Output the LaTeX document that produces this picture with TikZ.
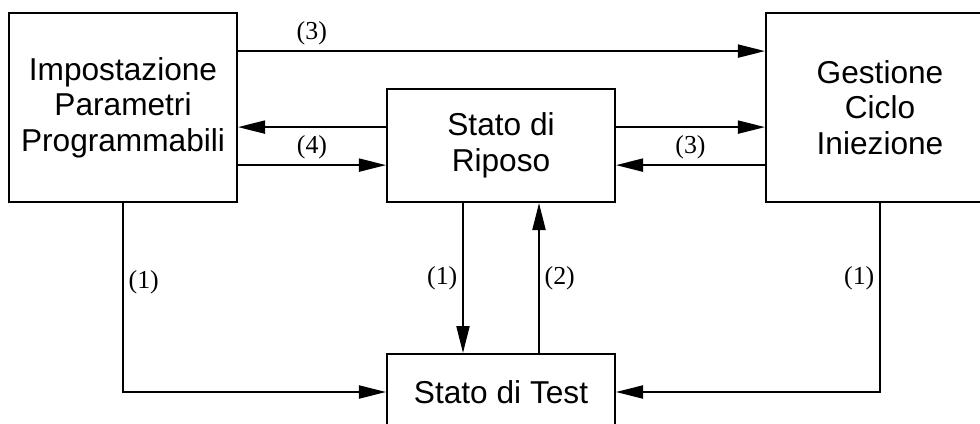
\documentclass[tikz,border=0pt]{standalone}
\usepackage{fontspec}
\setmainfont{Liberation Sans}
\newfontfamily\lblfont{Liberation Serif}
\usetikzlibrary{arrows.meta}
\usetikzlibrary{positioning}
\tikzset{box/.style = {draw, line width=1.4pt, rectangle, inner sep=0pt, align=center,
                       font=\fontsize{22.5}{25.2}\selectfont},
         arr/.style = {line width=1.4pt, -{Triangle[length=0.675cm, width=0.325cm]}},
         lbl/.style = {font=\lblfont\fontsize{18.4}{20}\selectfont}}

\begin{document}
\begin{tikzpicture}[x=0.025cm, y=-0.025cm]
    \useasboundingbox (0, 0) rectangle (980, 423);
    \clip (0, 0) rectangle (980, 423);

    \node [box, minimum width=5.7cm, minimum height=4.725cm] (imp) at (123, 107.5) {Impostazione\\Parametri\\Programmabili};
    \node [box, minimum width=5.7cm, minimum height=4.725cm] (ges) at (880, 107.5) {Gestione\\Ciclo\\Iniezione};
    \node [box, minimum width=5.7cm, minimum height=2.825cm] (rip) at (501, 145.5) {Stato di\\Riposo};
    \node [box, minimum width=5.7cm, minimum height=1.9cm] (test) at (501, 392) {Stato di Test};

    \draw [arr] ([yshift=1.41cm]imp.east) -- node [lbl, pos=0.14, above] {(3)} ([yshift=1.41cm]ges.west);
    \draw [arr] ([yshift=0.46cm]rip.west) -- ([yshift=0.46cm]rip.west -| imp.east);
    \draw [arr] ([yshift=-0.49cm]rip.west -| imp.east) -- node [lbl, above] {(4)} ([yshift=-0.49cm]rip.west);
    \draw [arr] ([yshift=0.46cm]rip.east) -- ([yshift=0.46cm]rip.east -| ges.west);
    \draw [arr] ([yshift=-0.49cm]rip.east -| ges.west) -- node [lbl, above] {(3)} ([yshift=-0.49cm]rip.east);

    \draw [arr] ([xshift=-0.95cm]rip.south) -- node [lbl, left] {(1)} ([xshift=-0.95cm]test.north);
    \draw [arr] ([xshift=0.95cm]test.north) -- node [lbl, right] {(2)} ([xshift=0.95cm]rip.south);
    \draw [arr] (imp.south) |- node [lbl, pos=0.21, right] {(1)} (test.west);
    \draw [arr] (ges.south) |- node [lbl, pos=0.2, left] {(1)} (test.east);
\end{tikzpicture}
\end{document}
